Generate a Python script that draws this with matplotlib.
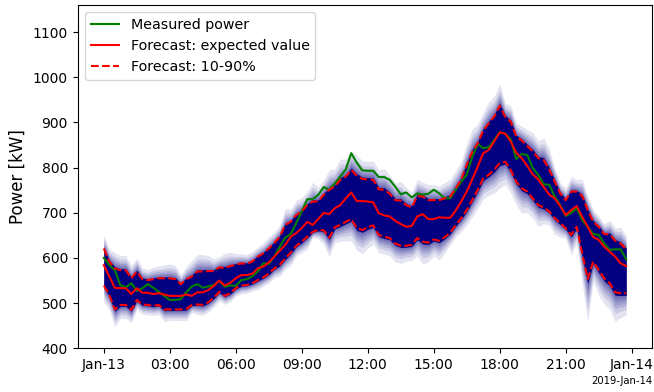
"""Probabilistic load forecast for one day: measured power,
expected value and the 10-90% band, drawn as a fan chart.
"""
from statistics import NormalDist

import numpy as np
import pandas as pd
import matplotlib
matplotlib.use('Agg')
import matplotlib.pyplot as plt
import matplotlib.dates as mdates

# 15-minute values for 2019-01-13 (kW)
measured = [600, 584, 573, 540, 535, 544, 527, 533, 542, 534, 525, 516,
            507, 507, 509, 524, 537, 542, 534, 537, 540, 549, 536, 539,
            538, 551, 553, 559, 570, 588, 587, 603, 625, 645, 653, 677,
            703, 730, 730, 740, 757, 751, 765, 780, 796, 832, 811, 794,
            793, 793, 779, 779, 773, 758, 741, 745, 734, 743, 740, 742,
            751, 743, 732, 732, 751, 769, 784, 824, 852, 843, 845, 861,
            878, 875, 863, 819, 830, 828, 799, 784, 763, 762, 736, 717,
            693, 700, 710, 684, 669, 653, 651, 632, 618, 619, 619, 597]

expected = [584, 559, 534, 533, 533, 520, 533, 523, 523, 520, 522, 519,
            516, 516, 516, 519, 516, 524, 524, 529, 538, 550, 539, 545,
            555, 562, 562, 565, 577, 581, 590, 603, 616, 629, 647, 655,
            666, 680, 673, 686, 700, 697, 710, 717, 732, 745, 726, 726,
            725, 723, 699, 694, 692, 682, 675, 669, 671, 692, 697, 686,
            686, 690, 689, 689, 705, 725, 747, 774, 802, 832, 839, 858,
            878, 875, 858, 833, 821, 804, 785, 774, 757, 740, 732, 715,
            695, 706, 715, 691, 669, 646, 640, 625, 614, 603, 588, 582]

p90 = [621, 592, 577, 573, 573, 555, 570, 553, 551, 553, 555, 555,
       555, 553, 542, 553, 559, 570, 570, 571, 571, 579, 578, 582,
       585, 588, 587, 592, 603, 610, 621, 633, 647, 673, 680, 695,
       703, 717, 725, 725, 740, 751, 758, 773, 780, 795, 782, 775,
       774, 773, 752, 751, 742, 728, 727, 717, 712, 737, 736, 728,
       728, 728, 732, 736, 754, 774, 806, 835, 854, 882, 898, 913,
       937, 912, 902, 869, 860, 848, 836, 821, 817, 796, 769, 743,
       728, 747, 747, 737, 706, 680, 669, 653, 652, 638, 632, 619]

p10 = [539, 518, 486, 496, 496, 485, 507, 497, 496, 494, 496, 486,
       486, 486, 486, 487, 496, 497, 496, 502, 512, 525, 516, 522,
       533, 539, 540, 544, 551, 557, 565, 577, 585, 599, 612, 627,
       636, 647, 658, 662, 661, 645, 668, 673, 680, 686, 666, 662,
       668, 672, 651, 647, 644, 632, 627, 627, 629, 644, 636, 634,
       641, 638, 646, 656, 673, 688, 706, 728, 751, 776, 784, 795,
       810, 813, 795, 769, 754, 747, 732, 717, 712, 703, 688, 677,
       666, 651, 669, 610, 553, 592, 573, 555, 544, 524, 522, 522]

yticks = [400, 500, 600, 700, 800, 900, 1000, 1100]


def fan(ax, t, mid, lo, hi, color='navy'):
    """Draws the forecast band: solid inside 10-90%, fading outside."""
    mid, lo, hi = np.asarray(mid), np.asarray(lo), np.asarray(hi)
    z10 = NormalDist().inv_cdf(0.1)
    for q in np.arange(0.01, 0.1, 0.01):
        s = NormalDist().inv_cdf(q) / z10
        ax.fill_between(t, mid - s * (mid - lo), mid + s * (hi - mid),
                        color=color, alpha=0.11, linewidth=0)
    # a thin fully dark margin just outside the dashed lines
    ax.fill_between(t, mid - 1.08 * (mid - lo), mid + 1.08 * (hi - mid),
                    color=color, linewidth=0)


def main():
    t = pd.date_range('2019-01-13 00:00', periods=len(measured), freq='15min')

    fig = plt.figure(figsize=(6.54, 3.92), dpi=100)
    ax = fig.add_axes([0.1188, 0.1115, 0.8786, 0.8758])

    fan(ax, t, expected, p10, p90)
    ax.plot(t, measured, color='green', lw=1.5, label='Measured power')
    ax.plot(t, expected, color='red', lw=1.5,
            label='Forecast: expected value')
    ax.plot(t, p90, color='red', lw=1.5, ls='--',
            label='Forecast: 10-90%')
    ax.plot(t, p10, color='red', lw=1.5, ls='--')

    locator = mdates.HourLocator(byhour=range(0, 24, 3))
    ax.xaxis.set_major_locator(locator)
    ax.xaxis.set_major_formatter(mdates.ConciseDateFormatter(locator))
    ax.xaxis.get_offset_text().set_fontsize(7.2)

    ax.set_ylim(400, 1160)
    ax.set_yticks(yticks)
    ax.tick_params(labelsize=10)
    ax.set_ylabel('Power [kW]', fontsize=12)
    ax.legend(loc='upper left', fontsize=10.3)

    fig.savefig('out.png', dpi=100)


if __name__ == '__main__':
    main()
